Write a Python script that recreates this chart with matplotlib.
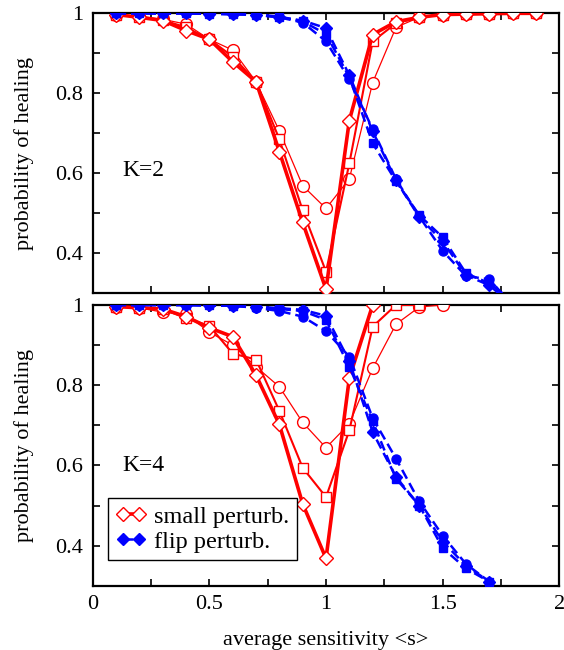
import numpy as np
import matplotlib
matplotlib.use("Agg")
import matplotlib.pyplot as plt
from matplotlib.lines import Line2D
from matplotlib.ticker import MultipleLocator, FormatStrFormatter

plt.rcParams['font.family'] = ['Liberation Serif', 'DejaVu Serif']
plt.rcParams['font.size'] = 16

# K=2 panel
x2_red = [0.1, 0.2, 0.3, 0.4, 0.5, 0.6, 0.7, 0.8, 0.9, 1.0,
          1.1, 1.2, 1.3, 1.4, 1.5, 1.6, 1.7, 1.8, 1.9]
k2_small_circ = [0.997, 0.993, 0.985, 0.973, 0.935, 0.908, 0.829, 0.706, 0.569, 0.512,
                 0.586, 0.827, 0.965, 0.99, 0.995, 0.998, 0.999, 1.0, 1.0]
k2_small_sq = [0.997, 0.99, 0.983, 0.965, 0.935, 0.892, 0.829, 0.685, 0.507, 0.354,
               0.625, 0.93, 0.975, 0.99, 0.997, 0.998, 0.999, 1.0, 1.0]
k2_small_dia = [0.997, 0.99, 0.982, 0.957, 0.935, 0.879, 0.829, 0.654, 0.477, 0.31,
                0.732, 0.947, 0.979, 0.99, 0.997, 0.998, 0.999, 1.0, 1.0]

x2_blue = [0.1, 0.2, 0.3, 0.4, 0.5, 0.6, 0.7, 0.8, 0.9, 1.0,
           1.1, 1.2, 1.3, 1.4, 1.5, 1.6, 1.7, 1.8]
k2_flip_circ = [1.0, 1.0, 1.0, 1.0, 0.999, 0.998, 0.997, 0.99, 0.977, 0.93,
                0.835, 0.71, 0.585, 0.492, 0.406, 0.343, 0.335, 0.27]
k2_flip_sq = [1.0, 1.0, 1.0, 1.0, 0.999, 0.998, 0.997, 0.992, 0.98, 0.948,
              0.84, 0.675, 0.58, 0.495, 0.44, 0.35, 0.325, 0.28]
k2_flip_dia = [1.0, 1.0, 1.0, 1.0, 0.999, 0.998, 0.996, 0.99, 0.982, 0.963,
               0.845, 0.705, 0.582, 0.49, 0.43, 0.345, 0.32, 0.27]

# K=4 panel
x4_circ = [0.1, 0.2, 0.3, 0.4, 0.5, 0.6, 0.7, 0.8, 0.9, 1.0, 1.1, 1.2, 1.3, 1.4, 1.5]
k4_small_circ = [0.996, 0.993, 0.982, 0.977, 0.932, 0.9, 0.846, 0.796, 0.707, 0.644,
                 0.704, 0.842, 0.952, 0.995, 1.0]
x4_sq = [0.1, 0.2, 0.3, 0.4, 0.5, 0.6, 0.7, 0.8, 0.9, 1.0, 1.1, 1.2, 1.3, 1.4]
k4_small_sq = [0.996, 0.993, 0.99, 0.967, 0.948, 0.879, 0.864, 0.736, 0.594, 0.521,
               0.6875, 0.946, 1.0, 1.0]
x4_dia = [0.1, 0.2, 0.3, 0.4, 0.5, 0.6, 0.7, 0.8, 0.9, 1.0, 1.1, 1.2]
k4_small_dia = [0.996, 0.993, 0.99, 0.971, 0.943, 0.921, 0.825, 0.702, 0.504, 0.368,
                0.818, 1.0]

x4_blue = [0.1, 0.2, 0.3, 0.4, 0.5, 0.6, 0.7, 0.8, 0.9, 1.0,
           1.1, 1.2, 1.3, 1.4, 1.5, 1.6, 1.7]
k4_flip_circ = [1.0, 1.0, 1.0, 1.0, 0.999, 0.998, 0.993, 0.985, 0.971, 0.935,
                0.871, 0.718, 0.617, 0.51, 0.425, 0.354, 0.31]
k4_flip_sq = [1.0, 1.0, 1.0, 1.0, 0.999, 0.998, 0.995, 0.99, 0.985, 0.963,
              0.846, 0.71, 0.567, 0.5, 0.394, 0.343, 0.31]
k4_flip_dia = [1.0, 1.0, 1.0, 1.0, 0.999, 0.998, 0.996, 0.992, 0.988, 0.973,
               0.86, 0.683, 0.571, 0.5, 0.41, 0.35, 0.31]

RED = '#ff0000'
BLUE = '#0000ff'
DASH = (4, 2)

fig = plt.figure(figsize=(5.64, 6.5), dpi=100)
ax1 = fig.add_axes([0.1644, 0.5488, 0.8273, 0.4307])
ax2 = fig.add_axes([0.1644, 0.0989, 0.8273, 0.4319])


def red(ax, x, y, marker, lw, ms):
    ax.plot(x, y, color=RED, lw=lw, marker=marker, ms=ms, mfc='white',
            mec=RED, mew=1.0, zorder=3)


def blue(ax, x, y, marker, ms):
    ax.plot(x, y, color=BLUE, lw=1.8, ls=(0, DASH), marker=marker, ms=ms,
            mfc=BLUE, mec=BLUE, zorder=4)


for ax, data in [(ax1, [(x2_red, k2_small_circ), (x2_red, k2_small_sq), (x2_red, k2_small_dia),
                        (x2_blue, k2_flip_circ), (x2_blue, k2_flip_sq), (x2_blue, k2_flip_dia)]),
                 (ax2, [(x4_circ, k4_small_circ), (x4_sq, k4_small_sq), (x4_dia, k4_small_dia),
                        (x4_blue, k4_flip_circ), (x4_blue, k4_flip_sq), (x4_blue, k4_flip_dia)])]:
    red(ax, *data[0], 'o', 0.9, 8.5)
    red(ax, *data[1], 's', 1.5, 7)
    red(ax, *data[2], 'D', 2.6, 7)
    blue(ax, *data[3], 'o', 6.5)
    blue(ax, *data[4], 's', 6)
    blue(ax, *data[5], 'D', 6)

    ax.set_xlim(0, 2)
    ax.set_ylim(0.3, 1.0)
    ax.xaxis.set_major_locator(MultipleLocator(0.5))
    ax.xaxis.set_minor_locator(MultipleLocator(0.25))
    ax.yaxis.set_major_locator(MultipleLocator(0.2))
    ax.yaxis.set_minor_locator(MultipleLocator(0.1))
    ax.xaxis.set_major_formatter(FormatStrFormatter('%g'))
    ax.yaxis.set_major_formatter(FormatStrFormatter('%g'))
    ax.tick_params(which='both', direction='in', top=True, right=True,
                   width=1.2, labelsize=16)
    ax.tick_params(which='major', length=5, pad=7)
    ax.tick_params(which='minor', length=5)
    for s in ax.spines.values():
        s.set_linewidth(1.6)
    ax.set_ylabel('probability of healing', fontsize=16)
    ax.yaxis.set_label_coords(-0.126, 0.5)

ax1.tick_params(labelbottom=False)
ax2.set_xlabel('average sensitivity <s>', fontsize=16)
ax2.xaxis.set_label_coords(0.5, -0.162)

ax1.text(0.126, 0.608, 'K=2', fontsize=17, va='center', ha='left')
ax2.text(0.126, 0.6, 'K=4', fontsize=17, va='center', ha='left')

handles = [Line2D([], [], color=RED, lw=2.6, marker='D', ms=7, mfc='white', mec=RED),
           Line2D([], [], color=BLUE, lw=1.8, ls=(0, DASH), marker='D', ms=6, mfc=BLUE, mec=BLUE)]
leg = ax2.legend(handles, ['small perturb.', 'flip perturb.'], loc='lower left',
                 bbox_to_anchor=(0.033, 0.092), numpoints=2, handlelength=1.25,
                 fancybox=False, framealpha=1, edgecolor='black', fontsize=17.5,
                 borderpad=0.3, labelspacing=0.12, handletextpad=0.35, borderaxespad=0)
leg.get_frame().set_linewidth(1.0)

fig.savefig('out.png', dpi=100)
